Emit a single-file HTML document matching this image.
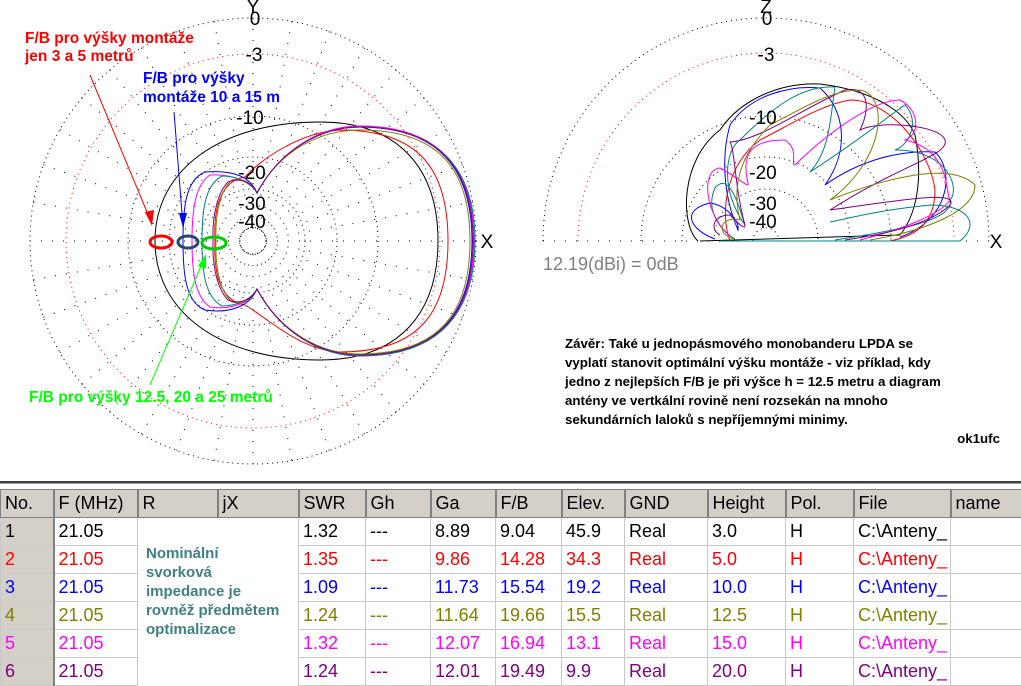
<!DOCTYPE html>
<html><head><meta charset="utf-8"><style>
body{margin:0;width:1021px;height:685px;background:#fff;overflow:hidden;position:relative;font-family:"Liberation Sans",sans-serif}
svg{position:absolute;left:0;top:0}
table{position:absolute;left:0;top:489px;border-collapse:collapse;font-size:18px;table-layout:fixed;width:1021px}
td{height:27px;padding:0 0 0 4px;border:1px solid #c8c8c8;white-space:nowrap;overflow:hidden;line-height:27px}
tr.h td{background:#d4d0c8;border:1px solid #808080;border-right:2px solid #808080;height:26px}
td.n{background:#d4d0c8;border-right:2px solid #808080}
.r1{color:#000}.r2{color:#f00}.r3{color:#00f}.r4{color:#808000}.r5{color:#f0f}.r6{color:#800080}
</style></head><body>
<svg width="1021" height="685" viewBox="0 0 1021 685">
<g fill="none" stroke="#000" stroke-width="1" stroke-dasharray="1 4">
<circle cx="253" cy="241" r="223"/>
<circle cx="253" cy="241" r="187" stroke="#f00"/>
<circle cx="253" cy="241" r="125"/>
<circle cx="253" cy="241" r="84"/>
<circle cx="253" cy="241" r="52"/>
<circle cx="253" cy="241" r="13"/>
<g id="sp" stroke-dasharray="1 10">
<line x1="266" y1="241" x2="476" y2="241"/>
<line x1="266" y1="241" x2="476" y2="241" transform="rotate(10 253 241)"/>
<line x1="266" y1="241" x2="476" y2="241" transform="rotate(20 253 241)"/>
<line x1="266" y1="241" x2="476" y2="241" transform="rotate(30 253 241)"/>
<line x1="266" y1="241" x2="476" y2="241" transform="rotate(40 253 241)"/>
<line x1="266" y1="241" x2="476" y2="241" transform="rotate(50 253 241)"/>
<line x1="266" y1="241" x2="476" y2="241" transform="rotate(60 253 241)"/>
<line x1="266" y1="241" x2="476" y2="241" transform="rotate(70 253 241)"/>
<line x1="266" y1="241" x2="476" y2="241" transform="rotate(80 253 241)"/>
<line x1="266" y1="241" x2="476" y2="241" transform="rotate(90 253 241)"/>
<line x1="266" y1="241" x2="476" y2="241" transform="rotate(100 253 241)"/>
<line x1="266" y1="241" x2="476" y2="241" transform="rotate(110 253 241)"/>
<line x1="266" y1="241" x2="476" y2="241" transform="rotate(120 253 241)"/>
<line x1="266" y1="241" x2="476" y2="241" transform="rotate(130 253 241)"/>
<line x1="266" y1="241" x2="476" y2="241" transform="rotate(140 253 241)"/>
<line x1="266" y1="241" x2="476" y2="241" transform="rotate(150 253 241)"/>
<line x1="266" y1="241" x2="476" y2="241" transform="rotate(160 253 241)"/>
<line x1="266" y1="241" x2="476" y2="241" transform="rotate(170 253 241)"/>
<line x1="266" y1="241" x2="476" y2="241" transform="rotate(180 253 241)"/>
</g>
<use href="#sp" transform="rotate(180 253 241)"/>
<path d="M543,241 A223,223 0 0 1 989,241"/>
<path d="M578,241 A188,188 0 0 1 954,241" stroke="#f00"/>
<path d="M641,241 A125,125 0 0 1 891,241"/>
<path d="M682,241 A84,84 0 0 1 850,241"/>
<path d="M714,241 A52,52 0 0 1 818,241"/>
<path d="M753,241 A13,13 0 0 1 779,241"/>
<use href="#sp" transform="translate(513 0)"/>
</g>
<rect x="520" y="242" width="480" height="230" fill="#fff"/>
<g fill="none" stroke-width="1">
<path stroke="#000" d="M155,241 C155,170 220,122 320,122 C400,122 438,170 438,241 C438,312 400,360 320,360 C220,360 155,312 155,241Z"/>
<path stroke="#f00" d="M448,241 C448,170 420,130 340,130 C300,132 260,160 245,177 C225,180 213,200 215,241 C213,282 225,302 245,305 C270,320 300,350 340,352 C420,352 448,312 448,241Z"/>
<path stroke="#00f" d="M472,241 C472,170 440,127 360,127 C320,127 280,150 257,193 C250,175 230,170 205,172 C185,180 183,210 183,241 C183,272 185,302 205,310 C230,314 250,306 257,289 C280,332 320,355 360,355 C440,355 472,312 472,241Z"/>
<path stroke="#f0f" d="M474,241 C474,170 440,126 360,126 C320,126 280,150 257,193 C250,180 230,174 210,175 C195,185 192,210 192,241 C192,272 195,297 210,307 C230,310 250,304 257,289 C280,332 320,356 360,356 C440,356 474,312 474,241Z"/>
<path stroke="#008080" d="M475,241 C475,170 440,127 360,127 C320,127 280,150 257,193 C250,180 232,176 222,176 C205,185 202,210 202,241 C202,272 205,297 222,306 C232,306 250,302 257,289 C280,332 320,356 360,356 C440,356 475,312 475,241Z"/>
<path stroke="#808000" d="M470,241 C470,170 440,130 360,130 C320,130 280,150 257,193 C250,180 240,178 232,180 C220,190 215,215 216,241 C215,267 220,292 232,302 C240,304 250,302 257,289 C280,332 320,354 360,354 C440,354 470,312 470,241Z"/>
<path stroke="#800080" d="M473,241 C473,170 440,127 360,127 C320,127 280,150 257,193 C250,180 238,178 228,182 C218,192 212,215 213,241 C212,267 218,290 228,300 C238,304 250,302 257,289 C280,332 320,355 360,355 C440,355 473,312 473,241Z"/>
</g>
<g fill="none" stroke-width="1">
<path stroke="#000" d="M698,241 C680,225 680,160 720,130 C740,100 780,82 820,84 C870,90 905,110 915,135 C922,170 920,210 900,235 L700,241"/>
<path stroke="#00f" d="M715,239 C690,230 680,210 710,203 C725,205 740,220 738,230 C725,200 720,160 730,125 C750,95 790,85 820,88 C845,110 850,150 825,185 C860,160 900,150 935,152 C955,170 950,220 900,237"/>
<path stroke="#f00" d="M730,241 C720,215 725,165 760,140 C790,125 820,105 850,100 C890,100 930,150 935,190 C935,220 920,235 890,241"/>
<path stroke="#008080" d="M735,239 C720,230 705,210 715,188 C730,170 740,210 745,225 C720,190 725,150 740,140 C770,110 800,85 835,87 C830,120 830,150 810,172 C860,140 910,100 905,105 C920,120 910,145 895,150 C950,150 960,190 950,200 C955,220 900,230 835,240"/>
<path stroke="#f0f" d="M730,236 C705,215 700,170 720,168 C735,175 750,190 748,183 C740,150 755,140 785,140 C800,150 790,165 795,165 C820,140 870,100 900,100 C920,110 920,135 905,140 C950,150 945,190 950,200 C940,215 900,230 860,240"/>
<path stroke="#800080" d="M720,235 C710,230 712,215 730,215 C740,225 745,230 745,225 C735,190 735,150 730,142 C760,140 800,110 845,90 C870,85 870,110 860,130 C880,120 940,125 945,140 C950,155 900,165 830,210 C900,200 960,190 950,205 C930,225 880,235 845,240"/>
<path stroke="#808000" d="M735,239 C715,235 720,215 740,220 C730,180 745,150 770,125 C800,110 830,90 860,90 C890,95 885,160 830,200 C880,180 950,160 975,185 C975,210 930,230 870,240"/>
<path stroke="#008080" d="M720,241 L960,241 C980,225 970,205 930,205 C880,210 850,218 830,222"/>
</g>
<g font-family="Liberation Sans,sans-serif" font-size="19" fill="#000" text-anchor="middle">
<text x="253" y="13">Y</text><text x="255" y="25">0</text><text x="254" y="61">-3</text>
<text x="250" y="124">-10</text><text x="252" y="179">-20</text><text x="252" y="210">-30</text><text x="252" y="228">-40</text>
<text x="487" y="248">X</text>
<text x="766" y="13">Z</text><text x="767" y="25">0</text><text x="766" y="61">-3</text>
<text x="763" y="124">-10</text><text x="763" y="179">-20</text><text x="763" y="210">-30</text><text x="763" y="228">-40</text>
<text x="996" y="248">X</text>
</g>
<text x="543" y="270" font-size="18" fill="#808080" font-family="Liberation Sans,sans-serif">12.19(dBi) = 0dB</text>
<g font-family="Liberation Sans,sans-serif" font-weight="bold" font-size="15.5">
<text x="25" y="43" fill="#f00">F/B pro výšky montáže</text>
<text x="25" y="61" fill="#f00">jen 3 a 5 metrů</text>
<text x="143" y="83" fill="#00f">F/B pro výšky</text>
<text x="143" y="102" fill="#00f">montáže 10 a 15 m</text>
<text x="29" y="402" fill="#0f0">F/B pro výšky 12.5, 20 a 25 metrů</text>
</g>
<line x1="90" y1="75" x2="152" y2="224" stroke="#f00"/>
<path d="M152,226 L145,212 L154,210Z" fill="#f00"/>
<line x1="174" y1="112" x2="183" y2="226" stroke="#00f"/>
<path d="M183,228 L179,213 L187,213Z" fill="#00f"/>
<line x1="150" y1="385" x2="205" y2="257" stroke="#0f0"/>
<path d="M206,254 L206,269 L198,266Z" fill="#0f0"/>
<g fill="none" stroke-width="3">
<ellipse cx="161" cy="242" rx="11" ry="6" stroke="#f00"/>
<ellipse cx="188" cy="242" rx="10" ry="6" stroke="#1f4a7a"/>
<ellipse cx="214" cy="243" rx="12" ry="6" stroke="#0c0"/>
</g>
<g font-family="Liberation Sans,sans-serif" font-weight="bold" font-size="13.3" fill="#000">
<text x="565" y="348">Závěr: Také u jednopásmového monobanderu LPDA se</text>
<text x="565" y="367">vyplatí stanovit optimální výšku montáže - viz příklad, kdy</text>
<text x="565" y="386">jedno z nejlepších F/B je při výšce h = 12.5 metru a diagram</text>
<text x="565" y="405">antény ve vertkální rovině není rozsekán na mnoho</text>
<text x="565" y="424">sekundárních laloků s nepříjemnými minimy.</text>
<text x="1000" y="443" text-anchor="end">ok1ufc</text>
</g>
<rect x="0" y="481" width="1021" height="2" fill="#404040"/>
<rect x="0" y="483" width="1021" height="1" fill="#a0a0a0"/>
</svg>
<table>
<colgroup><col style="width:53px"><col style="width:84px"><col style="width:80px"><col style="width:81px"><col style="width:67px"><col style="width:65px"><col style="width:65px"><col style="width:66px"><col style="width:63px"><col style="width:83px"><col style="width:78px"><col style="width:68px"><col style="width:97px"><col style="width:71px"></colgroup>
<tr class="h"><td>No.</td><td>F (MHz)</td><td>R</td><td>jX</td><td>SWR</td><td>Gh</td><td>Ga</td><td>F/B</td><td>Elev.</td><td>GND</td><td>Height</td><td>Pol.</td><td>File</td><td>name</td></tr>
<tr class="r1"><td class="n">1</td><td>21.05</td><td colspan="2" rowspan="6" style="border:none;vertical-align:top;padding:26px 0 0 8px;color:#408080;font-weight:bold;font-size:15px;line-height:19px;white-space:normal">Nominální<br>svorková<br>impedance je<br>rovněž předmětem<br>optimalizace</td><td>1.32</td><td>---</td><td>8.89</td><td>9.04</td><td>45.9</td><td>Real</td><td>3.0</td><td>H</td><td>C:\Anteny_</td><td></td></tr>
<tr class="r2"><td class="n">2</td><td>21.05</td><td>1.35</td><td>---</td><td>9.86</td><td>14.28</td><td>34.3</td><td>Real</td><td>5.0</td><td>H</td><td>C:\Anteny_</td><td></td></tr>
<tr class="r3"><td class="n">3</td><td>21.05</td><td>1.09</td><td>---</td><td>11.73</td><td>15.54</td><td>19.2</td><td>Real</td><td>10.0</td><td>H</td><td>C:\Anteny_</td><td></td></tr>
<tr class="r4"><td class="n">4</td><td>21.05</td><td>1.24</td><td>---</td><td>11.64</td><td>19.66</td><td>15.5</td><td>Real</td><td>12.5</td><td>H</td><td>C:\Anteny_</td><td></td></tr>
<tr class="r5"><td class="n">5</td><td>21.05</td><td>1.32</td><td>---</td><td>12.07</td><td>16.94</td><td>13.1</td><td>Real</td><td>15.0</td><td>H</td><td>C:\Anteny_</td><td></td></tr>
<tr class="r6"><td class="n">6</td><td>21.05</td><td>1.24</td><td>---</td><td>12.01</td><td>19.49</td><td>9.9</td><td>Real</td><td>20.0</td><td>H</td><td>C:\Anteny_</td><td></td></tr>
</table>
</body></html>
